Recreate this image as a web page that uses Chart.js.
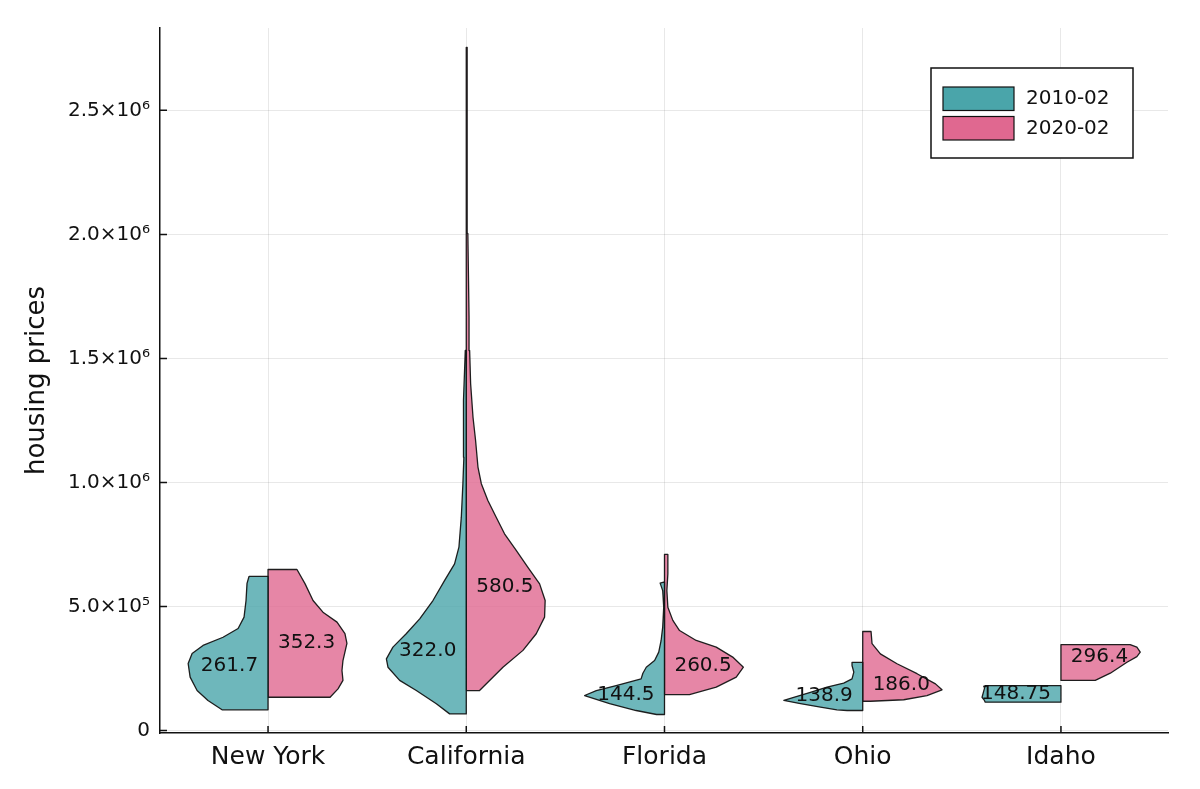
<!DOCTYPE html>
<html><head><meta charset="utf-8">
<script src="https://cdn.jsdelivr.net/npm/chart.js@4.4.1/dist/chart.umd.min.js"></script>
<style>html,body{margin:0;padding:0;background:#fff;} canvas{display:block;}</style>
</head><body>
<canvas id="c" width="1200" height="789" style="width:1200px;height:789px"></canvas>
<script>
// ---- data (prices in thousands of dollars, widths = half-width of violin in category units) ----
const states = ['New York', 'California', 'Florida', 'Ohio', 'Idaho'];
const years = ['2010-02', '2020-02'];
const medians2010 = [261.7, 322.0, 144.5, 138.9, 148.75];
const medians2020 = [352.3, 580.5, 260.5, 186.0, 296.4];
const medianLabels2010 = ['261.7', '322.0', '144.5', '138.9', '148.75'];
const medianLabels2020 = ['352.3', '580.5', '260.5', '186.0', '296.4'];
const yTickValues = [0, 500000, 1000000, 1500000, 2000000, 2500000];
const yTickLabels = ['0', '5.0×10⁵', '1.0×10⁶', '1.5×10⁶', '2.0×10⁶', '2.5×10⁶'];

const nyPrice2010 = [83.5, 121, 161, 215, 270, 310, 343, 376, 411, 457, 524, 593, 621];
const nyWidth2010 = [0.232, 0.303, 0.358, 0.393, 0.403, 0.383, 0.328, 0.227, 0.151, 0.121, 0.111, 0.106, 0.096];
const nyPrice2020 = [134, 168, 202, 242, 282, 351, 391, 437, 477, 524, 591, 649];
const nyWidth2020 = [0.313, 0.353, 0.378, 0.373, 0.378, 0.398, 0.388, 0.348, 0.277, 0.227, 0.187, 0.146];

const caPrice2010 = [67, 108, 161, 202, 255, 289, 336, 390, 450, 524, 605, 672, 739, 860, 995, 1102, 1169, 1331, 1532];
const caWidth2010 = [0.084, 0.151, 0.252, 0.336, 0.395, 0.403, 0.37, 0.303, 0.235, 0.168, 0.109, 0.059, 0.037, 0.025, 0.017, 0.012, 0.016, 0.012, 0.005];
const caPrice2020 = [161, 255, 323, 390, 457, 524, 591, 658, 726, 793, 860, 927, 995, 1062, 1169, 1263, 1398, 1532, 1666, 2004, 2500, 2754];
const caWidth2020 = [0.067, 0.185, 0.286, 0.353, 0.395, 0.398, 0.37, 0.311, 0.252, 0.193, 0.151, 0.109, 0.076, 0.059, 0.047, 0.034, 0.022, 0.017, 0.014, 0.008, 0.005, 0.004];

const flPrice2010 = [64.5, 80.6, 108, 141, 161, 181, 208, 231, 255, 282, 316, 363, 417, 497, 564, 594, 598];
const flWidth2010 = [0.04, 0.143, 0.277, 0.403, 0.344, 0.244, 0.118, 0.109, 0.092, 0.05, 0.029, 0.017, 0.009, 0.004, 0.009, 0.022, 0.004];
const flPrice2020 = [145, 175, 215, 255, 296, 336, 363, 403, 444, 497, 564, 632, 710];
const flWidth2020 = [0.126, 0.261, 0.362, 0.398, 0.344, 0.261, 0.16, 0.076, 0.042, 0.017, 0.012, 0.017, 0.017];

const ohPrice2010 = [80.6, 83.5, 94, 108, 121, 134, 154, 175, 191, 208, 235, 262, 275];
const ohWidth2010 = [0.079, 0.13, 0.213, 0.314, 0.398, 0.348, 0.264, 0.18, 0.096, 0.054, 0.045, 0.054, 0.054];
const ohPrice2020 = [118, 124, 141, 164, 188, 229, 269, 309, 350, 399];
const ohWidth2020 = [0.039, 0.207, 0.324, 0.4, 0.367, 0.274, 0.173, 0.089, 0.047, 0.042];

const idPrice2010 = [114, 121, 134, 158, 181];
const idWidth2010 = [0.382, 0.386, 0.398, 0.39, 0.382];
const idPrice2020 = [202, 231, 275, 298, 316, 336, 346];
const idWidth2020 = [0.173, 0.249, 0.333, 0.383, 0.4, 0.383, 0.349];

const prices2010 = [nyPrice2010, caPrice2010, flPrice2010, ohPrice2010, idPrice2010];
const widths2010 = [nyWidth2010, caWidth2010, flWidth2010, ohWidth2010, idWidth2010];
const prices2020 = [nyPrice2020, caPrice2020, flPrice2020, ohPrice2020, idPrice2020];
const widths2020 = [nyWidth2020, caWidth2020, flWidth2020, ohWidth2020, idWidth2020];

// ---- styles ----
const baseColors = ['rgb(74,165,170)', 'rgb(224,104,144)'];
const fillColors = ['rgba(74,165,170,0.8)', 'rgba(224,104,144,0.8)'];
const edgeColor = 'rgba(20,20,20,0.95)';
const FONT = '"DejaVu Sans", "Liberation Sans", sans-serif';
Chart.defaults.font.family = FONT;
Chart.defaults.color = '#111';

function halfPolygon(center, prices, widths, side) {
  const pts = [{x: center, y: prices[0] * 1000}];
  for (let i = 0; i < prices.length; i++) pts.push({x: center + side * widths[i], y: prices[i] * 1000});
  pts.push({x: center, y: prices[prices.length - 1] * 1000});
  pts.push({x: center, y: prices[0] * 1000});
  return pts;
}

const datasets = [];
states.forEach((s, i) => {
  const c = i + 1;
  datasets.push({label: years[0], data: halfPolygon(c, prices2010[i], widths2010[i], -1),
    backgroundColor: fillColors[0], borderColor: edgeColor});
  datasets.push({label: years[1], data: halfPolygon(c, prices2020[i], widths2020[i], 1),
    backgroundColor: fillColors[1], borderColor: edgeColor});
});
datasets.forEach(d => Object.assign(d, {showLine: true, fill: 'shape', borderWidth: 1.3,
  pointRadius: 0, pointHoverRadius: 0, tension: 0, borderJoinStyle: 'round'}));

const medianLabelPlugin = {
  id: 'medianLabels',
  afterDatasetsDraw(chart) {
    const xs = chart.scales.x, ys = chart.scales.y, ctx = chart.ctx;
    ctx.save();
    ctx.font = '20px ' + FONT;
    ctx.fillStyle = '#111';
    ctx.textBaseline = 'middle';
    states.forEach((s, i) => {
      const c = i + 1;
      ctx.textAlign = 'right';
      ctx.fillText(medianLabels2010[i], xs.getPixelForValue(c - 0.05), ys.getPixelForValue(medians2010[i] * 1000));
      ctx.textAlign = 'left';
      ctx.fillText(medianLabels2020[i], xs.getPixelForValue(c + 0.05), ys.getPixelForValue(medians2020[i] * 1000));
    });
    ctx.restore();
  }
};

const innerTicksPlugin = {
  id: 'innerTicks',
  afterDraw(chart) {
    const xs = chart.scales.x, ys = chart.scales.y, ctx = chart.ctx, a = chart.chartArea;
    ctx.save();
    ctx.strokeStyle = '#111';
    ctx.lineWidth = 1.5;
    ctx.beginPath();
    yTickValues.forEach(v => { const p = ys.getPixelForValue(v); ctx.moveTo(a.left, p); ctx.lineTo(a.left + 7, p); });
    states.forEach((s, i) => { const p = xs.getPixelForValue(i + 1); ctx.moveTo(p, a.bottom); ctx.lineTo(p, a.bottom - 7); });
    ctx.stroke();
    ctx.restore();
  }
};

const boxLegendPlugin = {
  id: 'boxLegend',
  afterDraw(chart) {
    const ctx = chart.ctx, a = chart.chartArea;
    const bx = a.right - 237, by = a.top + 40, bw = 202, bh = 90;
    ctx.save();
    ctx.fillStyle = '#fff';
    ctx.fillRect(bx, by, bw, bh);
    ctx.strokeStyle = '#111';
    ctx.lineWidth = 1.5;
    ctx.strokeRect(bx, by, bw, bh);
    ctx.font = '20px ' + FONT;
    ctx.textBaseline = 'middle';
    ctx.textAlign = 'left';
    years.forEach((y, k) => {
      const sy = by + 19 + k * 29.5;
      ctx.fillStyle = baseColors[k];
      ctx.fillRect(bx + 12, sy, 71, 23.5);
      ctx.lineWidth = 1.2;
      ctx.strokeRect(bx + 12, sy, 71, 23.5);
      ctx.fillStyle = '#111';
      ctx.fillText(y, bx + 95, sy + 12);
    });
    ctx.restore();
  }
};

new Chart(document.getElementById('c'), {
  type: 'scatter',
  data: {datasets},
  plugins: [medianLabelPlugin, innerTicksPlugin, boxLegendPlugin],
  options: {
    responsive: false,
    animation: false,
    events: [],
    layout: {padding: {left: 0, right: 32, top: 28, bottom: 0}},
    plugins: {legend: {display: false}, tooltip: {enabled: false}},
    scales: {
      x: {
        type: 'linear', min: 0.455, max: 5.54,
        afterBuildTicks: (sc) => { sc.ticks = states.map((s, i) => ({value: i + 1})); },
        afterFit: (sc) => { sc.height = 56; },
        ticks: {callback: (v) => states[Math.round(v) - 1], font: {size: 25}, color: '#111', padding: 9, maxRotation: 0, autoSkip: false},
        grid: {color: 'rgba(0,0,0,0.09)', lineWidth: 1, drawTicks: false},
        border: {display: true, color: '#111', width: 1.5}
      },
      y: {
        type: 'linear', min: -10080, max: 2832000,
        afterBuildTicks: (sc) => { sc.ticks = yTickValues.map(v => ({value: v})); },
        afterFit: (sc) => { sc.width = 160; },
        ticks: {callback: (v) => yTickLabels[yTickValues.indexOf(v)], font: {size: 20}, color: '#111', padding: 10},
        grid: {color: 'rgba(0,0,0,0.09)', lineWidth: 1, drawTicks: false},
        border: {display: true, color: '#111', width: 1.5},
        title: {display: true, text: 'housing prices', font: {size: 26}, color: '#111', padding: {top: 22, bottom: 0}}
      }
    }
  }
});
</script>
</body></html>
